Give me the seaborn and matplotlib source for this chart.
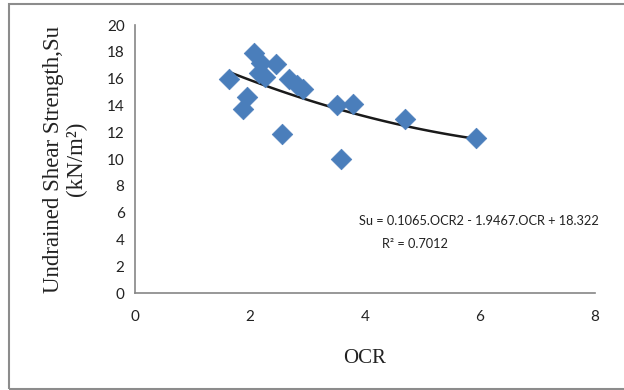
import numpy as np
import pandas as pd
import matplotlib
matplotlib.use("Agg")
import matplotlib.pyplot as plt
import seaborn as sns
from matplotlib.patches import Rectangle

# OCR vs undrained shear strength
ocr = [1.64, 2.07, 2.19, 2.45, 2.15, 2.26, 2.68, 2.81, 2.92, 1.95, 1.88,
       2.55, 3.51, 3.80, 3.58, 4.70, 5.94]
su = [16.0, 17.9, 17.2, 17.1, 16.4, 16.1, 16.0, 15.5, 15.2, 14.6, 13.7,
      11.9, 14.0, 14.1, 10.0, 13.0, 11.6]

x_ticks = [0, 2, 4, 6, 8]
y_ticks = [0, 2, 4, 6, 8, 10, 12, 14, 16, 18, 20]

equation_text = "Su = 0.1065.OCR2 - 1.9467.OCR + 18.322"
r2_text = "R² = 0.7012"

df = pd.DataFrame({"OCR": ocr, "Su": su})

sns.set_style("white")
plt.rcParams["font.family"] = ["Lato", "DejaVu Sans"]

fig = plt.figure(figsize=(6.24, 3.9), dpi=100)
ax = fig.add_axes([0.2163, 0.2487, 0.737, 0.687])

# polynomial trendline (order 2) over the data range
coef = np.polyfit(df["OCR"], df["Su"], 2)
xs = np.linspace(df["OCR"].min(), df["OCR"].max(), 100)
ax.plot(xs, np.polyval(coef, xs), color="#1a1a1a", lw=1.8, zorder=2)

sns.scatterplot(data=df, x="OCR", y="Su", marker="D", s=110, color="#4a7ebb",
                edgecolor="#4a7ebb", linewidth=0.5, ax=ax, zorder=3)

ax.set_xlim(0, 8)
ax.set_ylim(0, 20)
ax.set_xticks(x_ticks)
ax.set_yticks(y_ticks)
ax.tick_params(axis="both", direction="out", length=4, width=1, color="#868686",
               labelsize=11, colors="#222222")
ax.tick_params(axis="x", pad=8)
for side in ["top", "right"]:
    ax.spines[side].set_visible(False)
for side in ["left", "bottom"]:
    ax.spines[side].set_color("#868686")
    ax.spines[side].set_linewidth(1.2)

ax.set_xlabel("OCR", family="Liberation Serif", fontsize=15, labelpad=18, color="#222222")
ax.set_ylabel("Undrained Shear Strength,Su\n(kN/m²)", family="Liberation Serif",
              fontsize=16.5, labelpad=14, color="#222222", linespacing=1.15)

ax.text(0.487, 0.269, equation_text, transform=ax.transAxes, ha="left", va="center",
        fontsize=9.2, color="#222222")
ax.text(0.537, 0.183, r2_text, transform=ax.transAxes, ha="left", va="center",
        fontsize=9.2, color="#222222")

# outer chart frame
fig.patches.append(Rectangle((9 / 624, 1 / 390), 1.0, 385 / 390, transform=fig.transFigure,
                             fill=False, edgecolor="#8c8c8c", lw=1.5))

fig.savefig("out.png", dpi=100)
